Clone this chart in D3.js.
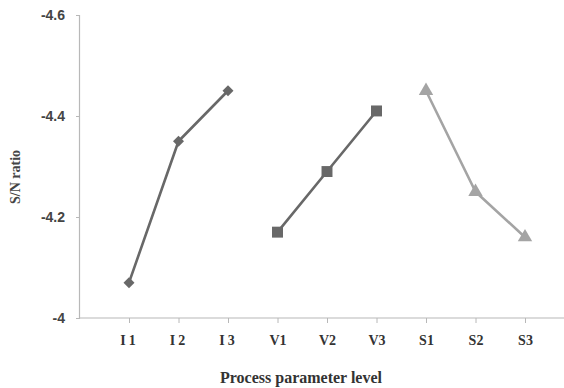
<!DOCTYPE html>
<html>
<head>
<meta charset="utf-8">
<script src="https://cdn.jsdelivr.net/npm/d3@7"></script>
<style>
  body { margin: 0; background: #fff; }
</style>
</head>
<body>
<div id="chart"></div>
<script>
// categories along the x axis
var categories = ["I1", "I2", "I3", "V1", "V2", "V3", "S1", "S2", "S3"];

// S/N ratio per factor level
var currentLevels = ["I1", "I2", "I3"];
var currentValues = [-4.07, -4.35, -4.45];
var voltageLevels = ["V1", "V2", "V3"];
var voltageValues = [-4.17, -4.29, -4.41];
var speedLevels = ["S1", "S2", "S3"];
var speedValues = [-4.45, -4.25, -4.16];

var yTicks = [-4, -4.2, -4.4, -4.6];

var width = 564, height = 388;
var svg = d3.select("#chart").append("svg")
  .attr("width", width)
  .attr("height", height);

var plotLeft = 79, plotRight = 564, plotTop = 15, plotBottom = 318;

// x positions: one category width of empty space left of I1
var xScale = d3.scalePoint()
  .domain(categories)
  .range([plotLeft + 50, plotLeft + 50 + 49.5 * 8]);

// reversed y: -4 at bottom, -4.6 at top
var yScale = d3.scaleLinear()
  .domain([-4, -4.6])
  .range([plotBottom, plotTop]);

// y axis (plain hyphen minus like the original)
var yAxis = svg.append("g")
  .attr("transform", "translate(" + plotLeft + ",0)")
  .call(d3.axisLeft(yScale).tickValues(yTicks).tickSize(3).tickPadding(11)
    .tickFormat(function(d) { return String(d); }));
yAxis.select(".domain").attr("stroke", "#b8b8b8").attr("stroke-width", 1.2);
yAxis.selectAll(".tick line").attr("stroke", "#b8b8b8");
yAxis.selectAll(".tick text")
  .style("font-family", "Liberation Sans, Arial, sans-serif")
  .style("font-size", "14px")
  .style("font-weight", "bold")
  .attr("fill", "#444");

// x axis
var xAxis = svg.append("g")
  .attr("transform", "translate(0," + plotBottom + ")")
  .call(d3.axisBottom(xScale).tickSize(5).tickPadding(12).tickSizeOuter(0));
xAxis.select(".domain")
  .attr("d", "M" + plotLeft + ",0H" + plotRight)
  .attr("stroke", "#b8b8b8").attr("stroke-width", 1.2);
xAxis.selectAll(".tick line").attr("stroke", "#b8b8b8");
xAxis.selectAll(".tick text")
  .style("font-family", "Liberation Serif, Times New Roman, serif")
  .style("font-size", "14px")
  .style("font-weight", "bold")
  .style("letter-spacing", function(d) { return d[0] === "I" ? "3px" : "0px"; })
  .attr("fill", "#333");

// axis titles
svg.append("text")
  .attr("x", 301)
  .attr("y", 383)
  .style("text-anchor", "middle")
  .style("font-family", "Liberation Serif, Times New Roman, serif")
  .style("font-size", "16px")
  .style("font-weight", "bold")
  .attr("fill", "#333")
  .text("Process parameter level");

svg.append("text")
  .attr("transform", "translate(20,177) rotate(-90)")
  .style("text-anchor", "middle")
  .style("font-family", "Liberation Serif, Times New Roman, serif")
  .style("font-size", "14px")
  .style("font-weight", "bold")
  .attr("fill", "#444")
  .text("S/N ratio");

function drawSeries(levels, values, color, symbolType, size, angle) {
  var pts = levels.map(function(l, i) { return [xScale(l), yScale(values[i])]; });
  svg.append("path")
    .datum(pts)
    .attr("fill", "none")
    .attr("stroke", color)
    .attr("stroke-width", 2.6)
    .attr("stroke-linejoin", "round")
    .attr("d", d3.line());
  svg.selectAll(null)
    .data(pts)
    .enter().append("path")
    .attr("transform", function(d) { return "translate(" + d[0] + "," + d[1] + ") rotate(" + angle + ")"; })
    .attr("fill", color)
    .attr("d", d3.symbol().type(symbolType).size(size));
}

drawSeries(currentLevels, currentValues, "#686868", d3.symbolSquare, 60, 45);
drawSeries(voltageLevels, voltageValues, "#686868", d3.symbolSquare, 120, 0);
drawSeries(speedLevels, speedValues, "#a4a4a4", d3.symbolTriangle, 90, 0);
</script>
</body>
</html>
